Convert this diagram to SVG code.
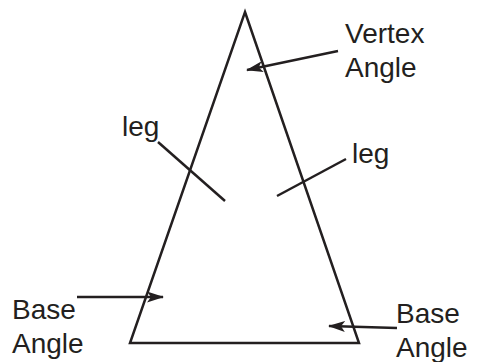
<svg xmlns="http://www.w3.org/2000/svg" width="479" height="362" viewBox="0 0 479 362">
<style>
.ln{stroke:#231f20;stroke-width:2.5;fill:none}
.t{font-family:"Liberation Sans",Arial,sans-serif;font-size:28px;fill:#231f20}
</style>
<defs>
<marker id="ah" markerWidth="17" markerHeight="11" refX="16" refY="5.5" orient="auto" markerUnits="userSpaceOnUse">
<path d="M0,0 L17,5.5 L0,11 L4,5.5 Z" fill="#231f20"/>
</marker>
</defs>
<rect width="479" height="362" fill="#fff"/>
<g id="triangle">
<path class="ln" d="M245,12 L359,343 L130,343 Z" stroke-linejoin="miter"/>
</g>
<g id="connectors">
<line class="ln" x1="338" y1="51" x2="247" y2="70" marker-end="url(#ah)"/>
<line class="ln" x1="77" y1="297" x2="163" y2="297" marker-end="url(#ah)"/>
<line class="ln" x1="397" y1="328" x2="329" y2="326" marker-end="url(#ah)"/>
<line class="ln" x1="158" y1="142" x2="225" y2="201"/>
<line class="ln" x1="346" y1="159" x2="277" y2="196"/>
</g>
<g id="vertex-label"><text class="t" x="345" y="43">Vertex</text><text class="t" x="345" y="77">Angle</text></g>
<g id="leg-left"><text class="t" x="122" y="136">leg</text></g>
<g id="leg-right"><text class="t" x="352" y="163">leg</text></g>
<g id="base-left"><text class="t" x="12" y="319">Base</text><text class="t" x="12" y="353">Angle</text></g>
<g id="base-right"><text class="t" x="396" y="323">Base</text><text class="t" x="396" y="357">Angle</text></g>
</svg>
